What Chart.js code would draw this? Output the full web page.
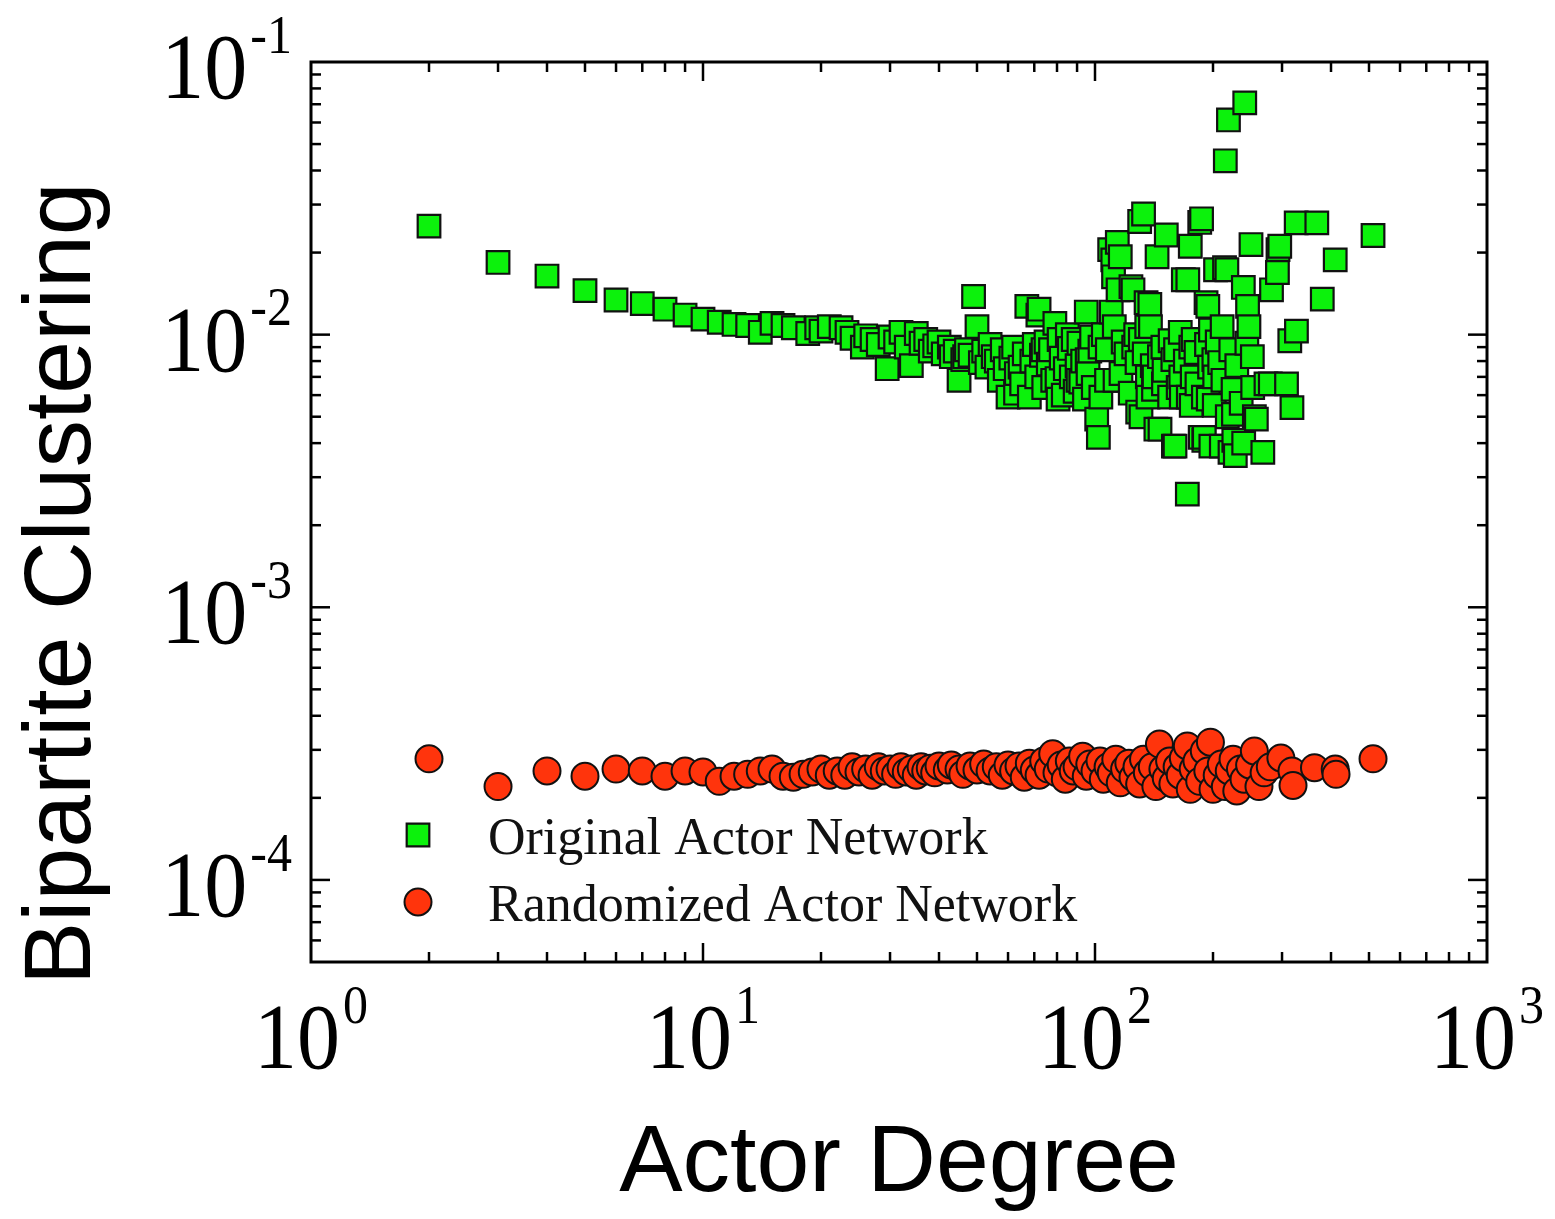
<!DOCTYPE html>
<html>
<head>
<meta charset="utf-8">
<script src="https://cdn.jsdelivr.net/npm/chart.js@4.4.1/dist/chart.umd.min.js"></script>
<style>
  html, body { margin: 0; padding: 0; background: #fff; }
  canvas { display: block; }
</style>
</head>
<body>
<canvas id="myChart" width="1555" height="1219"></canvas>
<script>
'use strict';

// Original actor network (green squares)
const originalDegree = [
  2, 3, 4, 5, 6, 7, 8, 9, 10, 11, 12, 13, 14, 15, 16, 17, 18.5, 19.5, 20, 21,
  22.5, 23.3, 24, 25.5, 26, 27, 28, 29.5, 30, 31, 32, 33, 34, 35, 36, 37, 38, 39, 40, 41,
  42.5, 43, 44, 45, 46, 46.5, 47, 48, 49, 50, 51, 52, 53, 54, 55, 56, 57, 58, 59, 60,
  61, 62, 62.7, 63, 64.4, 65, 66, 67, 68, 69, 70, 71, 71.5, 72, 73, 73.7, 74, 75, 76, 77,
  78, 79, 80, 80.5, 81, 82, 83, 84, 85, 86, 87, 88, 89, 90, 90.5, 91, 92, 93, 94, 95,
  95.5, 96, 97, 98, 99, 101, 102, 103, 103.5, 105, 107, 107.5, 109, 110, 111, 111.5, 112, 112.5, 114, 114.5,
  116, 116.5, 118, 120, 123, 123.5, 125, 125.5, 127, 128, 128.5, 130, 130.5, 131, 133, 133.5, 135, 135.5, 136, 136.5,
  138, 138.5, 140, 141, 141.5, 143, 144, 146, 146.5, 149, 149.5, 150, 152, 155, 155.5, 158, 158.5, 160, 160.5, 163,
  165, 165.5, 166, 168, 170, 172, 172.5, 173, 175, 175.5, 176, 177, 178, 181, 182, 185, 185.5, 187, 189, 189.5,
  190, 192, 192.5, 194, 194.5, 196, 197, 197.5, 201, 201.5, 202, 203, 205, 208, 210, 211, 212, 214, 215, 217,
  217.5, 219, 221, 222, 225, 225.5, 226, 228, 230, 236, 239, 239.5, 241, 244, 245, 247, 250, 252, 252.5, 255,
  258, 268, 273, 280, 282, 292, 293, 296, 308, 314, 318, 326, 326.5, 368, 380, 410, 512
];
const originalClustering = [
  0.025, 0.0184, 0.0164, 0.0145, 0.0134, 0.013, 0.0124, 0.0118, 0.0114, 0.0111, 0.0109, 0.0108, 0.0102, 0.011, 0.0108, 0.0106, 0.0101, 0.0106, 0.0103, 0.0107,
  0.0106, 0.0102, 0.0097, 0.009, 0.0099, 0.0096, 0.0092, 0.0075, 0.0098, 0.0094, 0.0102, 0.009, 0.0077, 0.0101, 0.0093, 0.0096, 0.0087, 0.0091, 0.0094, 0.0085,
  0.009, 0.0083, 0.0087, 0.0068, 0.0081, 0.0083, 0.0088, 0.0084, 0.0138, 0.0107, 0.0079, 0.0087, 0.0076, 0.0092, 0.0083, 0.008, 0.0068, 0.0088, 0.0075, 0.0059,
  0.0082, 0.009, 0.0061, 0.0072, 0.0076, 0.0066, 0.0085, 0.0127, 0.0059, 0.008, 0.0092, 0.007, 0.0118, 0.0124, 0.0084, 0.0088, 0.0064, 0.0094, 0.0078, 0.0088,
  0.0068, 0.011, 0.0069, 0.0058, 0.0096, 0.0082, 0.006, 0.0075, 0.01, 0.0089, 0.007, 0.0096, 0.0062, 0.0077, 0.0068, 0.0093, 0.0067, 0.008, 0.0058, 0.0121,
  0.0081, 0.0072, 0.0087, 0.0098, 0.0064, 0.0049, 0.0042, 0.009, 0.0059, 0.01, 0.0068, 0.0088, 0.0205, 0.0121, 0.0188, 0.0163, 0.0107, 0.0068, 0.0218, 0.0146,
  0.0193, 0.0072, 0.0094, 0.0085, 0.0061, 0.015, 0.0146, 0.009, 0.01, 0.0079, 0.0052, 0.026, 0.0096, 0.005, 0.0277, 0.0085, 0.0131, 0.0107, 0.007, 0.0059,
  0.0129, 0.0107, 0.0077, 0.0063, 0.007, 0.0045, 0.0193, 0.0083, 0.0045, 0.009, 0.0066, 0.0074, 0.0232, 0.0059, 0.0095, 0.0081, 0.0039, 0.0039, 0.0088, 0.0064,
  0.0102, 0.007, 0.0059, 0.0159, 0.008, 0.0026, 0.0159, 0.0059, 0.0211, 0.009, 0.0055, 0.007, 0.0096, 0.0086, 0.0066, 0.0258, 0.0042, 0.0266, 0.0059, 0.0041,
  0.0042, 0.0131, 0.0092, 0.0127, 0.0058, 0.0076, 0.0104, 0.0039, 0.0081, 0.0055, 0.007, 0.0173, 0.0094, 0.0079, 0.0039, 0.0107, 0.0068, 0.0176, 0.0434, 0.0173,
  0.005, 0.0613, 0.0037, 0.0088, 0.0063, 0.0051, 0.0041, 0.0036, 0.0077, 0.0056, 0.0149, 0.004, 0.0708, 0.0093, 0.0127, 0.0107, 0.0214, 0.0083, 0.0064, 0.005,
  0.0049, 0.0037, 0.0066, 0.0066, 0.0146, 0.0169, 0.0205, 0.0211, 0.0066, 0.0095, 0.0054, 0.0257, 0.0103, 0.0257, 0.0135, 0.0188, 0.0231
];

// Randomized actor network (red circles)
const randomDegree = [
  2, 3, 4, 5, 6, 7, 8, 9, 10, 11, 12, 13, 14, 15, 16, 17, 18, 19, 20, 21,
  22, 23, 24, 25, 26, 27, 28, 29, 30, 31, 32, 33, 34, 35, 36, 37, 38, 39, 40, 42,
  43, 45, 46, 48, 50, 52, 54, 56, 58, 60, 62, 64, 66, 68, 70, 72, 74, 76, 78, 80,
  82, 84, 86, 88, 90, 93, 95, 97, 100, 103, 105, 108, 110, 113, 116, 119, 122, 125, 128, 130,
  133, 136, 140, 143, 146, 149, 152, 155, 158, 162, 165, 168, 172, 175, 178, 182, 185, 190, 194, 197,
  200, 205, 210, 215, 220, 225, 230, 235, 240, 248, 255, 262, 270, 280, 298, 318, 320, 363, 410, 412,
  512
];
const randomClustering = [
  2.78e-4, 2.2e-4, 2.51e-4, 2.4e-4, 2.55e-4, 2.51e-4, 2.4e-4, 2.51e-4, 2.49e-4, 2.3e-4, 2.4e-4, 2.44e-4, 2.51e-4, 2.55e-4, 2.4e-4, 2.38e-4, 2.44e-4, 2.49e-4, 2.55e-4, 2.42e-4,
  2.51e-4, 2.42e-4, 2.6e-4, 2.49e-4, 2.55e-4, 2.42e-4, 2.6e-4, 2.51e-4, 2.55e-4, 2.44e-4, 2.6e-4, 2.49e-4, 2.55e-4, 2.42e-4, 2.6e-4, 2.51e-4, 2.57e-4, 2.47e-4, 2.62e-4, 2.53e-4,
  2.64e-4, 2.55e-4, 2.44e-4, 2.62e-4, 2.53e-4, 2.66e-4, 2.51e-4, 2.6e-4, 2.42e-4, 2.64e-4, 2.51e-4, 2.62e-4, 2.38e-4, 2.68e-4, 2.53e-4, 2.42e-4, 2.73e-4, 2.55e-4, 2.9e-4, 2.47e-4,
  2.64e-4, 2.34e-4, 2.73e-4, 2.51e-4, 2.6e-4, 2.84e-4, 2.4e-4, 2.66e-4, 2.51e-4, 2.73e-4, 2.34e-4, 2.6e-4, 2.47e-4, 2.77e-4, 2.27e-4, 2.55e-4, 2.68e-4, 2.38e-4, 2.6e-4, 2.25e-4,
  2.77e-4, 2.47e-4, 2.6e-4, 2.2e-4, 3.15e-4, 2.55e-4, 2.36e-4, 2.73e-4, 2.25e-4, 2.6e-4, 2.42e-4, 2.8e-4, 3.1e-4, 2.15e-4, 2.55e-4, 2.73e-4, 2.3e-4, 2.97e-4, 2.51e-4, 3.2e-4,
  2.15e-4, 2.42e-4, 2.66e-4, 2.2e-4, 2.51e-4, 2.77e-4, 2.12e-4, 2.55e-4, 2.34e-4, 2.64e-4, 2.97e-4, 2.2e-4, 2.47e-4, 2.6e-4, 2.8e-4, 2.51e-4, 2.22e-4, 2.58e-4, 2.55e-4, 2.44e-4,
  2.78e-4
];

const seriesLabels = ['Original Actor Network', 'Randomized Actor Network'];
const xTickExponents = [0, 1, 2, 3];
const yTickExponents = [-1, -2, -3, -4];

const serif = '"Liberation Serif", "Times New Roman", serif';
const sans = '"Liberation Sans", Arial, sans-serif';

function pairs(xs, ys) {
  return xs.map((v, i) => ({ x: v, y: ys[i] }));
}

// frame with inward ticks on all four sides, power-of-ten labels, legend and y title
const axisFrame = {
  id: 'axisFrame',
  afterDatasetsDraw(chart) {
    const { ctx, chartArea: a, scales: { x, y } } = chart;
    ctx.save();
    ctx.strokeStyle = '#000';
    ctx.lineCap = 'butt';

    function line(x1, y1, x2, y2) {
      ctx.beginPath();
      ctx.moveTo(x1, y1);
      ctx.lineTo(x2, y2);
      ctx.stroke();
    }

    ctx.lineWidth = 2.5;
    for (let k = 0; k <= 2; k++) {
      for (let m = 1; m <= 9; m++) {
        const v = m * Math.pow(10, k);
        if (v <= x.min || v >= x.max) continue;
        const px = x.getPixelForValue(v);
        const len = m === 1 ? 19 : 10;
        line(px, a.bottom, px, a.bottom - len);
        line(px, a.top, px, a.top + len);
      }
    }
    for (let k = -5; k <= -2; k++) {
      for (let m = 1; m <= 9; m++) {
        const v = m * Math.pow(10, k);
        if (v <= y.min * 1.0001 || v >= y.max * 0.9999) continue;
        const py = y.getPixelForValue(v);
        const len = m === 1 ? 19 : 10;
        line(a.left, py, a.left + len, py);
        line(a.right, py, a.right - len, py);
      }
    }

    ctx.lineWidth = 3;
    ctx.strokeRect(a.left, a.top, a.right - a.left, a.bottom - a.top);

    // tick labels 10^n, slightly tall like the original figure
    ctx.fillStyle = '#000';
    ctx.textBaseline = 'alphabetic';
    ctx.textAlign = 'left';
    const baseFont = '86px ' + serif;
    const supFont = '50px ' + serif;
    const stretch = 1.08;
    function power(exp, left, baseline) {
      ctx.save();
      ctx.translate(left, baseline);
      ctx.scale(1, stretch);
      ctx.font = baseFont;
      ctx.fillText('10', 0, 0);
      const w = ctx.measureText('10').width;
      ctx.font = supFont;
      ctx.fillText(String(exp), w + 3, -42);
      ctx.restore();
    }
    function powerWidth(exp) {
      ctx.font = baseFont;
      const w1 = ctx.measureText('10').width;
      ctx.font = supFont;
      return w1 + 3 + ctx.measureText(String(exp)).width;
    }
    xTickExponents.forEach(e => {
      const px = x.getPixelForValue(Math.pow(10, e));
      power(e, px - powerWidth(e) / 2, a.bottom + 106);
    });
    yTickExponents.forEach(e => {
      const py = y.getPixelForValue(Math.pow(10, e));
      power(e, a.left - 19 - powerWidth(e), py + 36);
    });

    // legend inside the plot
    const legendRows = [835, 902];
    chart.data.datasets.forEach((ds, i) => {
      const cy = legendRows[i];
      ctx.fillStyle = ds.backgroundColor;
      ctx.strokeStyle = ds.borderColor;
      ctx.lineWidth = ds.borderWidth;
      Chart.helpers.drawPoint(ctx, {
        pointStyle: ds.pointStyle,
        radius: ds.pointRadius,
        rotation: 0,
        borderWidth: ds.borderWidth
      }, 418, cy);
      ctx.fillStyle = '#111';
      ctx.font = '52px ' + serif;
      ctx.fillText(ds.label, 488, cy + 19);
    });

    // y axis title
    ctx.translate(90, 985);
    ctx.rotate(-Math.PI / 2);
    ctx.font = '95px ' + sans;
    ctx.fillStyle = '#000';
    ctx.fillText('Bipartite Clustering', 0, 0);
    ctx.restore();
  }
};

const ctx = document.getElementById('myChart').getContext('2d');
const myChart = new Chart(ctx, {
  type: 'scatter',
  data: {
    datasets: [{
      label: seriesLabels[0],
      data: pairs(originalDegree, originalClustering),
      pointStyle: 'rect',
      pointRadius: 16,
      pointHoverRadius: 16,
      backgroundColor: 'rgb(12,242,12)',
      borderColor: '#111',
      borderWidth: 2.2
    }, {
      label: seriesLabels[1],
      data: pairs(randomDegree, randomClustering),
      pointStyle: 'circle',
      pointRadius: 13.5,
      pointHoverRadius: 13.5,
      backgroundColor: 'rgb(255,52,12)',
      borderColor: '#111',
      borderWidth: 2
    }]
  },
  options: {
    responsive: false,
    animation: false,
    events: [],
    layout: { padding: { left: 311, top: 62, right: 68, bottom: 0 } },
    plugins: {
      legend: { display: false },
      tooltip: { enabled: false }
    },
    scales: {
      x: {
        type: 'logarithmic',
        min: 1,
        max: 1000,
        grid: { display: false, drawTicks: false },
        border: { display: false },
        ticks: { display: false },
        title: {
          display: true,
          text: 'Actor Degree',
          color: '#000',
          font: { family: sans, size: 95, lineHeight: 1 },
          padding: { top: 155.5, bottom: 6.5 }
        }
      },
      y: {
        type: 'logarithmic',
        min: 5e-5,
        max: 0.1,
        display: false
      }
    }
  },
  plugins: [axisFrame]
});
</script>
</body>
</html>
